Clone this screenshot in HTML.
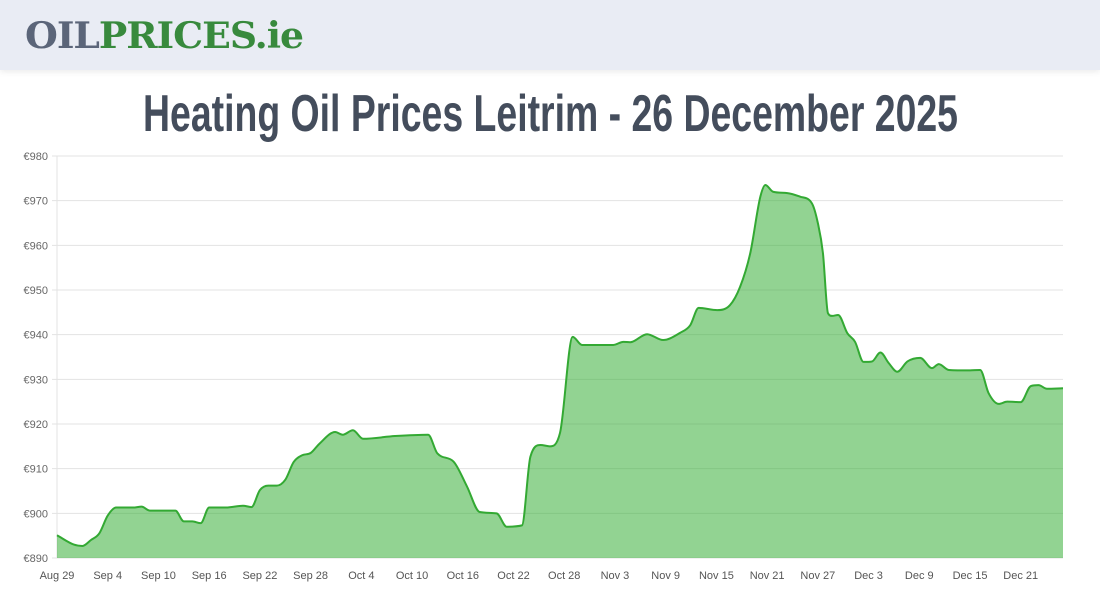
<!DOCTYPE html>
<html><head><meta charset="utf-8">
<style>
body{margin:0;width:1100px;height:600px;background:#fff;overflow:hidden;font-family:"Liberation Sans",sans-serif;position:relative}
#hdr{position:absolute;left:0;top:0;width:1100px;height:70px;background:#e9ecf4;box-shadow:0 2px 6px rgba(0,0,0,0.08)}
#logo{position:absolute;left:25px;top:14px;font-family:"DejaVu Serif",serif;font-weight:bold;font-size:36px;line-height:44px;white-space:nowrap;transform-origin:0 0;letter-spacing:-1px}
#title{position:absolute;left:0;top:84px;font-family:"Liberation Sans Narrow","Liberation Sans",sans-serif;font-weight:bold;font-size:52px;color:#444d5c;white-space:nowrap;transform-origin:0 0}
svg{position:absolute;left:0;top:0}
</style></head><body>
<div id="hdr"></div>
<div id="logo"><span style="color:#5b6579">OIL</span><span style="color:#388a3d">PRICES.ie</span></div>
<div id="title">Heating Oil Prices Leitrim - 26 December 2025</div>
<svg id="chart" width="1100" height="600"></svg>
<script>
const dayOffsets=[0,2,3,4,5,6,7,9,10,11,14,15,16,17,18,20,22,23,24,25,26,27,28,29,30,31,32.9,33.8,35,36.2,40,43.9,45,46.9,48.5,50,52,53.2,55,56,57.2,58.3,59.5,61,62.1,65.8,67,67.8,69.8,71.7,73.7,74.9,75.9,78.1,79.6,80.8,82,83.2,83.8,84.7,86.4,87.9,89.3,90,90.6,91.2,91.7,92.4,93.5,94.4,95.4,96.4,97.4,98.4,99.4,100.6,102.1,103.5,104.3,105.5,108,109.2,110.2,111.4,112.4,114,115.2,116.1,117.1,119];
const prices=[895.1,893,892.7,894,895.5,899.5,901.3,901.3,901.5,900.6,900.6,898.2,898.2,897.8,901.3,901.3,901.7,901.4,905.2,906.2,906.2,907.5,911.5,913,913.5,915.5,918.2,917.6,918.6,916.7,917.3,917.6,913.4,911.6,906,900.3,900,897,897.3,912.7,915.3,915,918,939.5,937.7,937.7,938.4,938.3,940.1,938.8,940.4,942.1,946,945.5,946.6,950.7,958.2,970.9,973.5,972,971.7,970.9,969.4,965,958.3,944.8,944.2,944.4,940.3,938.4,933.9,934,936,933.6,931.7,934,934.8,932.5,933.4,932.1,932,932.1,926.9,924.5,925,924.9,928.5,928.7,927.9,928];
const yTicks=[890,900,910,920,930,940,950,960,970,980];
const xTickLabels=["Aug 29","Sep 4","Sep 10","Sep 16","Sep 22","Sep 28","Oct 4","Oct 10","Oct 16","Oct 22","Oct 28","Nov 3","Nov 9","Nov 15","Nov 21","Nov 27","Dec 3","Dec 9","Dec 15","Dec 21"];
const xTickDays=[0,6,12,18,24,30,36,42,48,54,60,66,72,78,84,90,96,102,108,114];

const L=57,R=1063,T=156,B=558,yMin=890,yMax=980,dMax=119;
const xs=d=>L+(R-L)*d/dMax;
const ys=v=>B-(B-T)*(v-yMin)/(yMax-yMin);
const NS="http://www.w3.org/2000/svg";
const svg=document.getElementById('chart');
function mk(tag,at){const e=document.createElementNS(NS,tag);for(const k in at)e.setAttribute(k,at[k]);svg.appendChild(e);return e;}

yTicks.forEach(v=>{
  const g=mk('line',{x1:L-5,x2:R,y1:ys(v),y2:ys(v),stroke:'#e3e3e3','stroke-width':1});
  
  
  const t=mk('text',{x:48,y:ys(v)+4,'text-anchor':'end','font-size':11,fill:'#666'});
  t.textContent='€'+v;
  
  
});
const ax=mk('line',{x1:L,x2:L,y1:T,y2:B,stroke:'#e3e3e3'});


xTickLabels.forEach((lab,i)=>{
  const t=mk('text',{x:xs(xTickDays[i]),y:579,'text-anchor':'middle','font-size':11,fill:'#555'});
  t.textContent=lab;
  
  
});

const P=dayOffsets.map((d,i)=>[xs(d),ys(prices[i])]);
const n=P.length,m=[],dl=[];
for(let i=0;i<n-1;i++)dl.push((P[i+1][1]-P[i][1])/(P[i+1][0]-P[i][0]));
for(let i=0;i<n;i++){
  if(i===0)m.push(dl[0]);else if(i===n-1)m.push(dl[n-2]);
  else m.push(dl[i-1]*dl[i]<=0?0:(dl[i-1]+dl[i])/2);
}
for(let i=0;i<n-1;i++){
  if(dl[i]===0){m[i]=0;m[i+1]=0;continue;}
  const a=m[i]/dl[i],b=m[i+1]/dl[i],s=a*a+b*b;
  if(s>9){const t=3/Math.sqrt(s);m[i]=t*a*dl[i];m[i+1]=t*b*dl[i];}
}
let d='M'+P[0][0]+','+P[0][1];
for(let i=0;i<n-1;i++){
  const h=(P[i+1][0]-P[i][0])/3;
  d+=` C${P[i][0]+h},${P[i][1]+m[i]*h} ${P[i+1][0]-h},${P[i+1][1]-m[i+1]*h} ${P[i+1][0]},${P[i+1][1]}`;
}
const area=mk('path',{d:d+` L${P[n-1][0]},${B} L${P[0][0]},${B} Z`,fill:'rgba(46,170,46,0.52)'});


const line=mk('path',{d:d,fill:'none',stroke:'#33a933','stroke-width':2});



function fit(id,w){const e=document.getElementById(id);const r=e.getBoundingClientRect().width;e.style.transform='scaleX('+(w/r)+')';}
fit('logo',278);
const ti=document.getElementById('title');ti.style.left='143px';fit('title',815);
</script>
</body></html>
